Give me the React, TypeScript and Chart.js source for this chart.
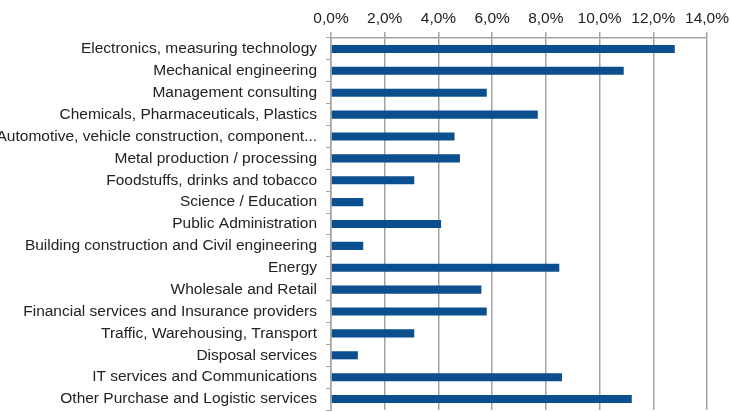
import React, { useEffect, useRef } from "react";
import { Chart, registerables } from "chart.js";

Chart.register(...registerables);

const categories: string[] = [
  "Electronics, measuring technology",
  "Mechanical engineering",
  "Management consulting",
  "Chemicals, Pharmaceuticals, Plastics",
  "Automotive, vehicle construction, component...",
  "Metal production / processing",
  "Foodstuffs, drinks and tobacco",
  "Science / Education",
  "Public Administration",
  "Building construction and Civil engineering",
  "Energy",
  "Wholesale and Retail",
  "Financial services and Insurance providers",
  "Traffic, Warehousing, Transport",
  "Disposal services",
  "IT services and Communications",
  "Other Purchase and Logistic services",
];

const shares: number[] = [12.8, 10.9, 5.8, 7.7, 4.6, 4.8, 3.1, 1.2, 4.1, 1.2, 8.5, 5.6, 5.8, 3.1, 1.0, 8.6, 11.2];

const axisMin = 0;
const axisMax = 14;
const axisStep = 2;

export default function App() {
  const ref = useRef<HTMLCanvasElement | null>(null);
  useEffect(() => {
    if (!ref.current) return;
    const font = { family: "'Liberation Sans', Arial, sans-serif", size: 15.5 };
    const chart = new Chart(ref.current, {
      type: "bar",
      data: {
        labels: categories,
        datasets: [
          {
            data: shares,
            backgroundColor: "#0b4f8e",
            borderWidth: 0,
            barPercentage: 0.37,
            categoryPercentage: 1,
          },
        ],
      },
      options: {
        indexAxis: "y",
        animation: false,
        responsive: true,
        maintainAspectRatio: false,
        layout: { padding: { top: 0, right: 24, bottom: 2, left: 0 } },
        plugins: { legend: { display: false }, tooltip: { enabled: false } },
        scales: {
          x: {
            position: "top",
            min: axisMin,
            max: axisMax,
            ticks: {
              stepSize: axisStep,
              color: "#222",
              font,
              padding: 4,
              maxRotation: 0,
              callback: (v: any) => Number(v).toFixed(1).replace(".", ",") + "%",
            },
            grid: { color: "#a3a3a3", lineWidth: 1.5, tickLength: 6 },
            border: { color: "#a3a3a3", width: 1.5 },
            afterFit: (s: any) => {
              s.height = 38;
              s.paddingLeft = 0;
              s.paddingRight = 0;
            },
          },
          y: {
            ticks: { color: "#222", font, padding: 9, autoSkip: false },
            grid: { drawOnChartArea: false, color: "#a3a3a3", tickLength: 5, lineWidth: 1 },
            border: { color: "#a3a3a3", width: 1.5 },
            afterFit: (s: any) => {
              s.width = 331;
              s.paddingTop = 0;
              s.paddingBottom = 0;
            },
          },
        },
      },
    });
    return () => chart.destroy();
  }, []);
  return (
    <div style={{ position: "fixed", left: 0, top: 0, width: 731, height: 412, background: "#fff" }}>
      <canvas ref={ref} />
    </div>
  );
}
